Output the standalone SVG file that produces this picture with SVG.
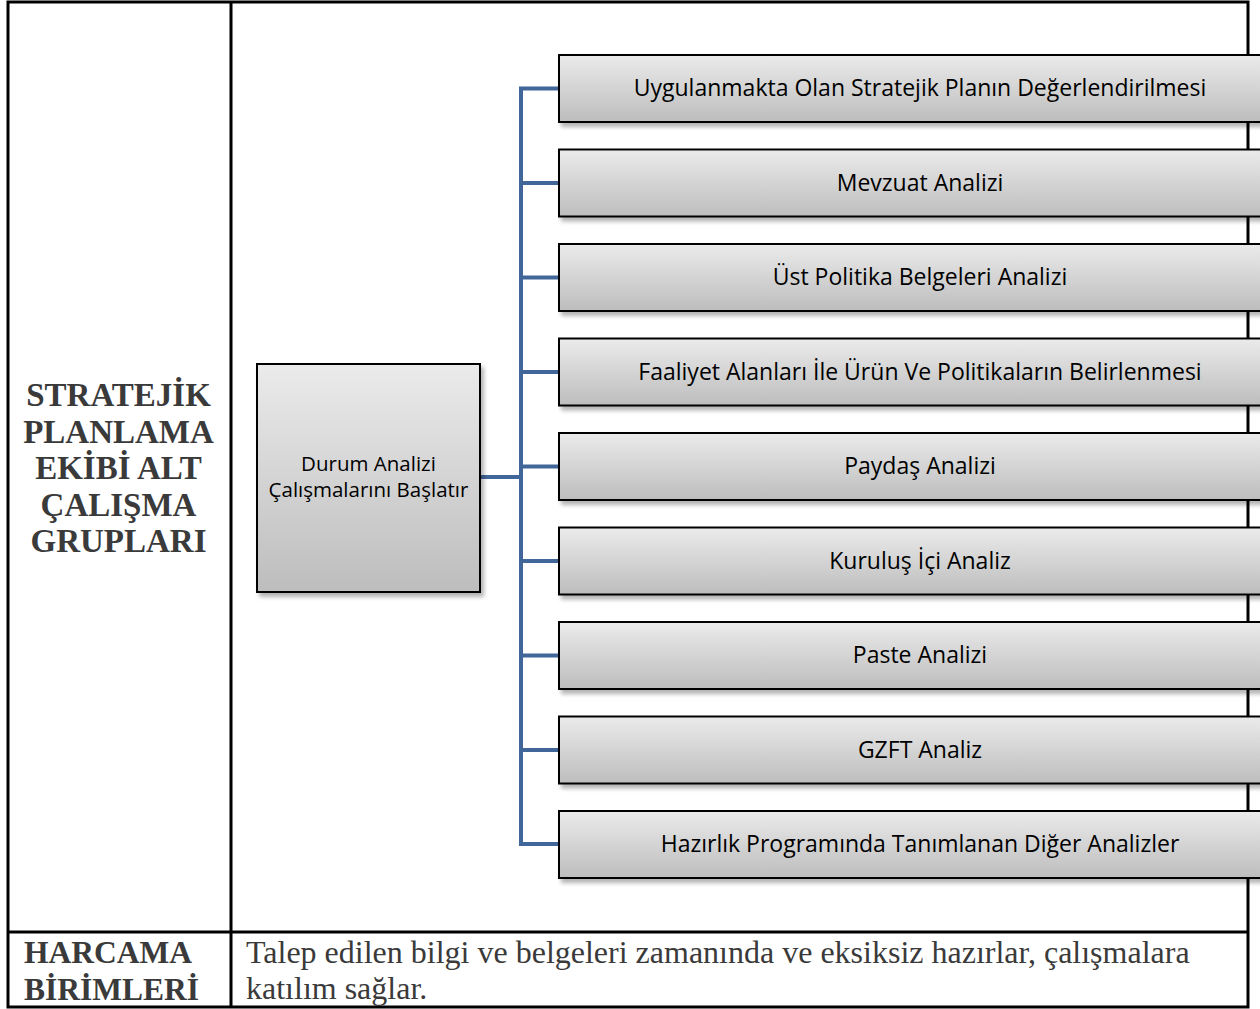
<svg xmlns="http://www.w3.org/2000/svg" width="1260" height="1009" viewBox="0 0 1260 1009">
<defs>
<linearGradient id="g" x1="0" y1="0" x2="0" y2="1">
<stop offset="0" stop-color="#ebebeb"/>
<stop offset="1" stop-color="#bdbdbd"/>
</linearGradient>
<filter id="sh" x="-5%" y="-10%" width="115%" height="130%">
<feGaussianBlur in="SourceAlpha" stdDeviation="2"/>
<feOffset dx="3" dy="4" result="b"/>
<feComponentTransfer><feFuncA type="linear" slope="0.3"/></feComponentTransfer>
<feMerge><feMergeNode/><feMergeNode in="SourceGraphic"/></feMerge>
</filter>
</defs>
<style>
.tbl{fill:none;stroke:#000;stroke-width:3}
.box{fill:url(#g);stroke:#000;stroke-width:2;filter:url(#sh)}
.bt{font-family:"Open Sans","Liberation Sans",sans-serif;font-size:23px;fill:#000;text-anchor:middle}
.lt{font-family:"Liberation Serif",serif;font-weight:bold;font-size:33px;fill:#3a3a3a;text-anchor:middle}
.hb{font-family:"Liberation Serif",serif;font-weight:bold;font-size:31.5px;fill:#3a3a3a}
.rt{font-family:"Liberation Serif",serif;font-size:32px;fill:#3a3a3a}
.con{fill:none;stroke:#41679a;stroke-width:4}
</style>
<rect width="1260" height="1009" fill="#fff"/>
<g id="table">
<rect class="tbl" x="8" y="2" width="1240" height="1005"/>
<line class="tbl" x1="231" y1="2" x2="231" y2="1007"/>
<line class="tbl" x1="8" y1="932" x2="1248" y2="932"/>
</g>
<g id="left-label">
<text class="lt" x="118.5" y="406">STRATEJİK</text>
<text class="lt" x="118.5" y="442.5">PLANLAMA</text>
<text class="lt" x="118.5" y="479">EKİBİ ALT</text>
<text class="lt" x="118.5" y="515.5">ÇALIŞMA</text>
<text class="lt" x="118.5" y="552">GRUPLARI</text>
</g>
<g id="bottom-row">
<text class="hb" x="24" y="963">HARCAMA</text>
<text class="hb" x="24" y="1000">BİRİMLERİ</text>
<text class="rt" x="246" y="963">Talep edilen bilgi ve belgeleri zamanında ve eksiksiz hazırlar, çalışmalara</text>
<text class="rt" x="246" y="999">katılım sağlar.</text>
</g>
<g id="connectors">
<path class="con" d="M480 477H521M559 88.5H521V844H559M521 183H559M521 277.5H559M521 372H559M521 466.5H559M521 561H559M521 655.5H559M521 750H559"/>
</g>
<g id="n0">
<rect class="box" x="257" y="364" width="223" height="228"/>
<text class="bt" x="368.5" y="471" style="font-size:20.5px">Durum Analizi</text>
<text class="bt" x="368.5" y="497" style="font-size:20.5px">Çalışmalarını Başlatır</text>
</g>
<g id="n1"><rect class="box" x="559" y="55" width="722" height="67"/><text class="bt" x="920" y="96">Uygulanmakta Olan Stratejik Planın Değerlendirilmesi</text></g>
<g id="n2"><rect class="box" x="559" y="149.5" width="722" height="67"/><text class="bt" x="920" y="190.5">Mevzuat Analizi</text></g>
<g id="n3"><rect class="box" x="559" y="244" width="722" height="67"/><text class="bt" x="920" y="285">Üst Politika Belgeleri Analizi</text></g>
<g id="n4"><rect class="box" x="559" y="338.5" width="722" height="67"/><text class="bt" x="920" y="379.5">Faaliyet Alanları İle Ürün Ve Politikaların Belirlenmesi</text></g>
<g id="n5"><rect class="box" x="559" y="433" width="722" height="67"/><text class="bt" x="920" y="474">Paydaş Analizi</text></g>
<g id="n6"><rect class="box" x="559" y="527.5" width="722" height="67"/><text class="bt" x="920" y="568.5">Kuruluş İçi Analiz</text></g>
<g id="n7"><rect class="box" x="559" y="622" width="722" height="67"/><text class="bt" x="920" y="663">Paste Analizi</text></g>
<g id="n8"><rect class="box" x="559" y="716.5" width="722" height="67"/><text class="bt" x="920" y="757.5">GZFT Analiz</text></g>
<g id="n9"><rect class="box" x="559" y="811" width="722" height="67"/><text class="bt" x="920" y="852">Hazırlık Programında Tanımlanan Diğer Analizler</text></g>
</svg>
